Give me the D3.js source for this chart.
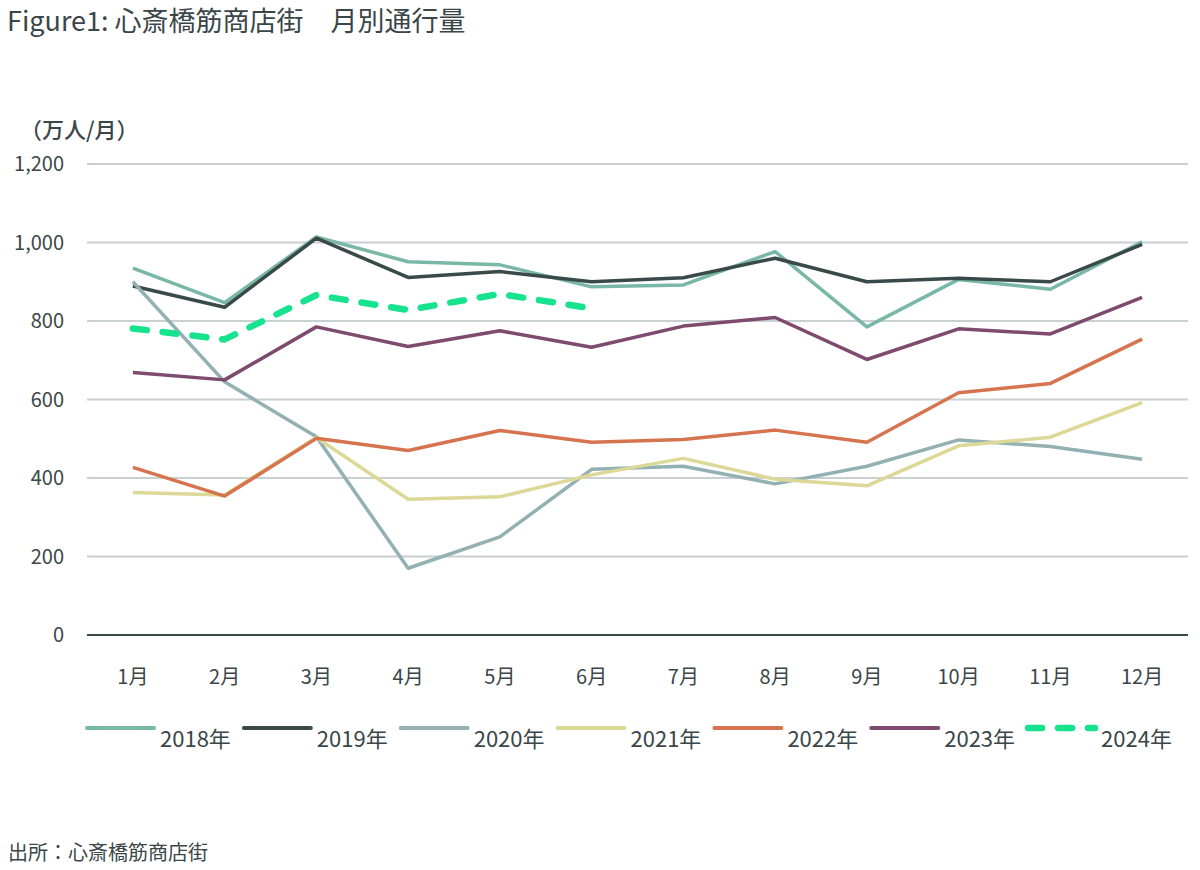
<!DOCTYPE html>
<html>
<head>
<meta charset="utf-8">
<script src="https://cdn.jsdelivr.net/npm/d3@7.9.0/dist/d3.min.js"></script>
<style>
  body { margin: 0; background: #fff; }
  svg { display: block; font-family: "Noto Sans CJK JP", "Noto Sans", sans-serif; }
</style>
</head>
<body>
<svg width="1200" height="870"></svg>
<script>
const months = ['1月','2月','3月','4月','5月','6月','7月','8月','9月','10月','11月','12月'];
const yTicks = [0, 200, 400, 600, 800, 1000, 1200];

const y2018 = [935, 847, 1014, 951, 943, 887, 892, 977, 785, 906, 881, 1002];
const y2019 = [889, 835, 1011, 911, 926, 900, 910, 960, 900, 909, 900, 995];
const y2020 = [900, 645, 505, 170, 250, 422, 430, 385, 430, 497, 480, 448];
const y2021 = [363, 357, 503, 346, 352, 408, 450, 397, 380, 482, 504, 592];
const y2022 = [427, 354, 501, 470, 521, 491, 498, 522, 491, 617, 641, 754];
const y2023 = [669, 650, 785, 735, 775, 733, 787, 809, 702, 780, 767, 860];
const y2024 = [781, 753, 866, 828, 869, 832];

const series = [
  { name: '2018年', values: y2018, color: '#7ab8a6' },
  { name: '2019年', values: y2019, color: '#3a4a4b' },
  { name: '2020年', values: y2020, color: '#93b0b2' },
  { name: '2021年', values: y2021, color: '#dcd898' },
  { name: '2022年', values: y2022, color: '#d6744f' },
  { name: '2023年', values: y2023, color: '#7e4a6e' },
  { name: '2024年', values: y2024, color: '#17e38e', dashed: true }
];

const textColor = '#3a4648';
const svg = d3.select('svg');

const x = d3.scalePoint().domain(months).range([87, 1188]).padding(0.5);
const y = d3.scaleLinear().domain([0, 1200]).range([635, 164]);

// title
svg.append('text')
  .attr('x', 7).attr('y', 31)
  .attr('font-size', 27).attr('fill', textColor)
  .text('Figure1: 心斎橋筋商店街　月別通行量');

// unit label
svg.append('text')
  .attr('x', 20).attr('y', 138)
  .attr('font-size', 22).attr('font-weight', 500).attr('fill', textColor)
  .text('（万人/月）');

// grid
svg.append('g').selectAll('line')
  .data(yTicks)
  .join('line')
  .attr('x1', 87).attr('x2', 1188)
  .attr('y1', d => y(d)).attr('y2', d => y(d))
  .attr('stroke', d => d === 0 ? '#3a4a4b' : '#c9d0d1')
  .attr('stroke-width', 2);

// y labels
svg.append('g').selectAll('text')
  .data(yTicks)
  .join('text')
  .attr('x', 64).attr('y', d => y(d))
  .attr('dy', '0.35em')
  .attr('text-anchor', 'end')
  .attr('font-size', 20).attr('fill', textColor)
  .text(d => d3.format(',')(d));

// x labels
svg.append('g').selectAll('text')
  .data(months)
  .join('text')
  .attr('x', d => x(d)).attr('y', 677)
  .attr('dy', '0.35em')
  .attr('text-anchor', 'middle')
  .attr('font-size', 20).attr('fill', textColor)
  .text(d => d);

// lines
const line = d3.line()
  .x((d, i) => x(months[i]))
  .y(d => y(d));

series.forEach(s => {
  svg.append('path')
    .datum(s.values)
    .attr('d', line)
    .attr('fill', 'none')
    .attr('stroke', s.color)
    .attr('stroke-width', s.dashed ? 6.5 : 3.5)
    .attr('stroke-linejoin', 'round')
    .attr('stroke-linecap', s.dashed ? 'round' : 'butt')
    .attr('stroke-dasharray', s.dashed ? '14,16' : null);
});

// legend
let lx = 87;
const legend = svg.append('g');
series.forEach(s => {
  legend.append('line')
    .attr('x1', lx).attr('x2', lx + 67)
    .attr('y1', 728).attr('y2', 728)
    .attr('stroke', s.color)
    .attr('stroke-width', s.dashed ? 6.5 : 4)
    .attr('stroke-linecap', 'round')
    .attr('stroke-dasharray', s.dashed ? '14,16' : null);
  const t = legend.append('text')
    .attr('x', lx + 73).attr('y', 739)
    .attr('dy', '0.35em')
    .attr('font-size', 22).attr('fill', textColor)
    .text(s.name);
  lx += 73 + t.node().getComputedTextLength() + 13;
});

// source
svg.append('text')
  .attr('x', 8).attr('y', 853)
  .attr('dy', '0.35em')
  .attr('font-size', 20).attr('fill', textColor)
  .text('出所：心斎橋筋商店街');
</script>
</body>
</html>
